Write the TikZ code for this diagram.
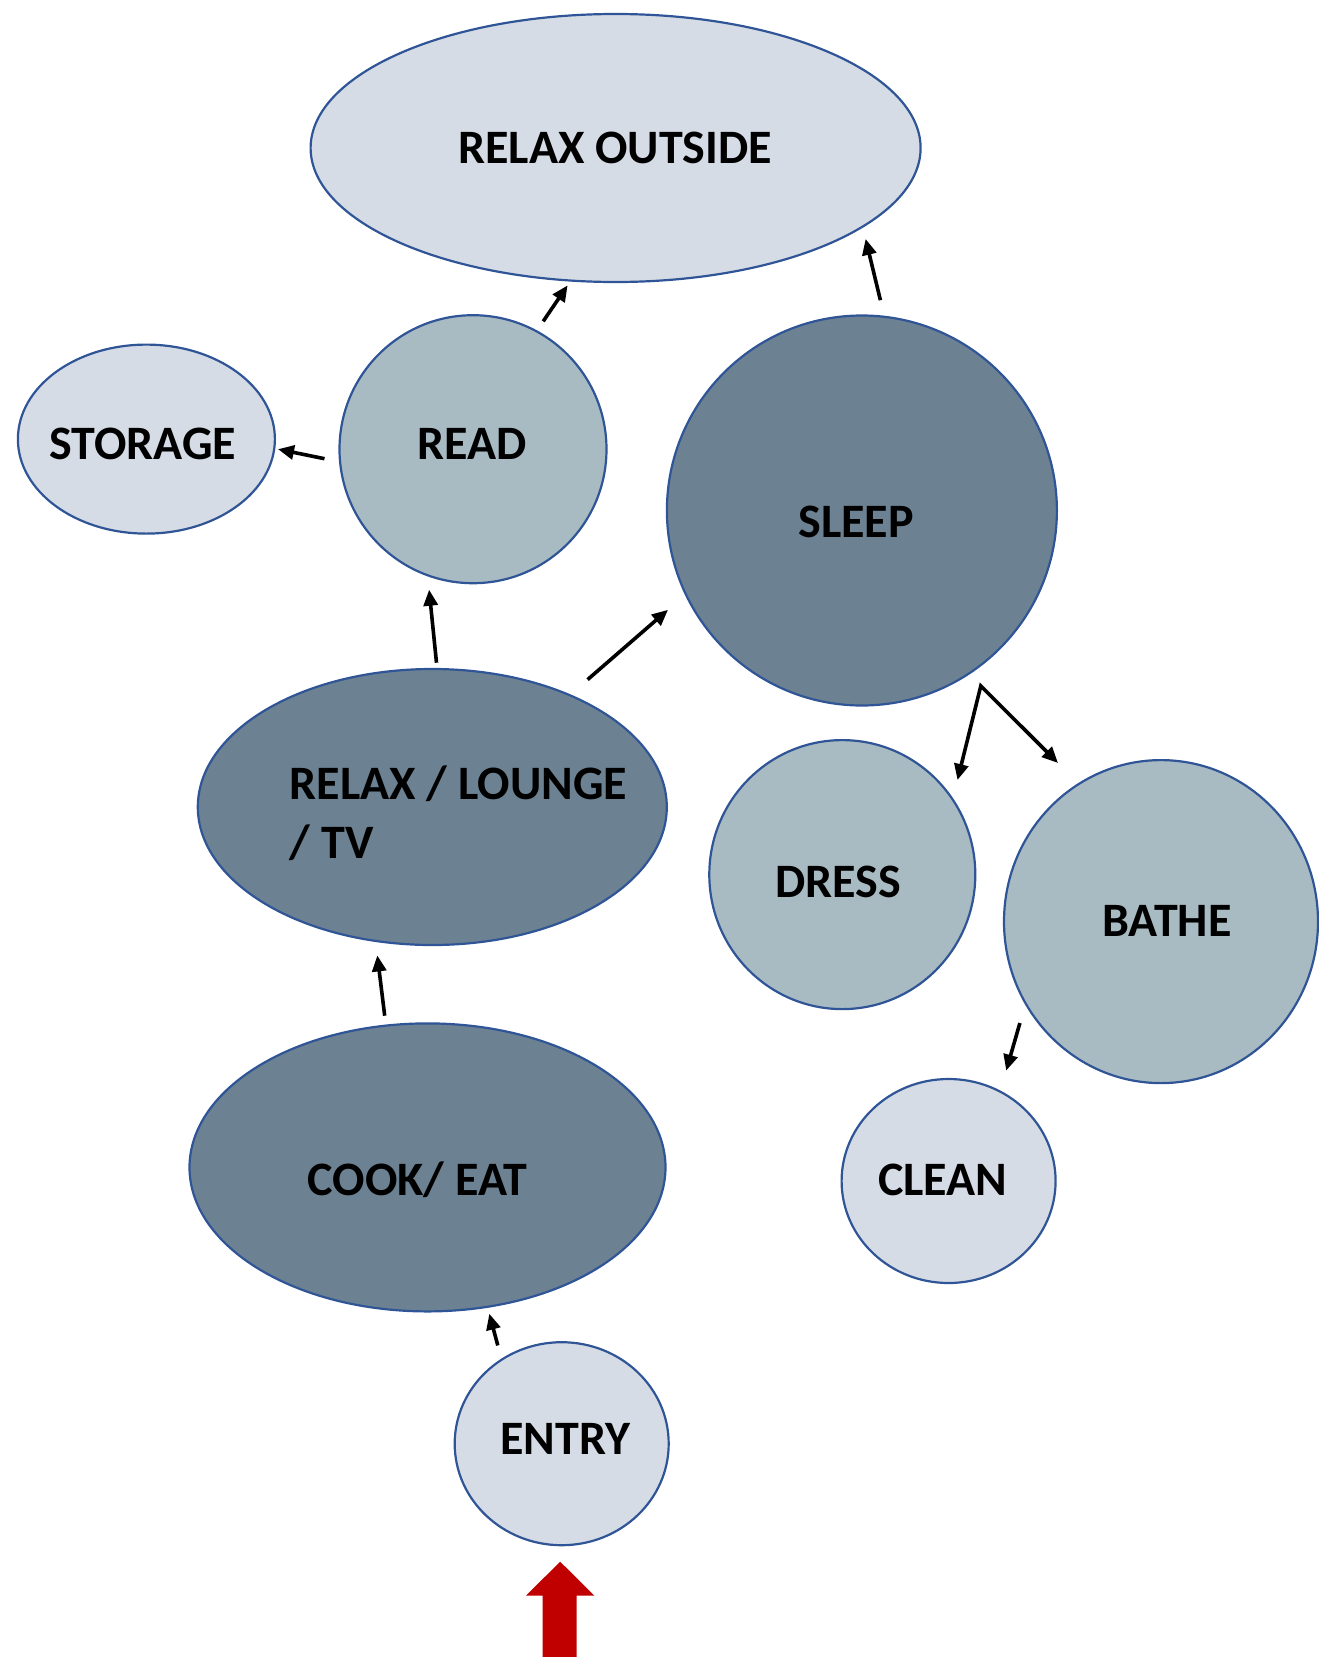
\documentclass[tikz,border=0pt]{standalone}
\usepackage{fontspec}
\setmainfont{Carlito}
\usetikzlibrary{shapes.geometric,arrows.meta}
\definecolor{lightfill}{HTML}{D6DCE5}
\definecolor{midfill}{HTML}{A9BBC2}
\definecolor{darkfill}{HTML}{6C8191}
\definecolor{rim}{HTML}{2F5597}
\definecolor{entryred}{HTML}{C00000}
\begin{document}
\begin{tikzpicture}[x=1pt,y=-1pt,
  zone/.style={ellipse, draw=rim, line width=2.2pt, inner sep=0pt},
  lbl/.style={font=\fontsize{48}{57}\selectfont\bfseries, text height=30.3pt, text depth=0pt, inner sep=0pt},
  lbltwo/.style={font=\fontsize{48}{59}\selectfont\bfseries, inner sep=0pt, align=left},
  flow/.style={line width=3.6pt, -{Triangle[length=16pt,width=14pt]}},
  fork/.style={line width=3.6pt, {Triangle[length=16pt,width=14pt]}-{Triangle[length=16pt,width=14pt]}, line join=miter},
]
\useasboundingbox (0,0) rectangle (1319,1657);

% zones
\node[zone, fill=lightfill, minimum width=610pt, minimum height=268pt] (outside) at (615.6,148) {};
\node[zone, fill=lightfill, minimum width=257pt, minimum height=189pt] (storage) at (146.4,439.1) {};
\node[zone, fill=midfill, minimum width=267pt, minimum height=268pt] (read) at (473,449.2) {};
\node[zone, fill=darkfill, minimum width=390pt, minimum height=390pt] (sleep) at (861.9,510.5) {};
\node[zone, fill=darkfill, minimum width=469pt, minimum height=276pt] (lounge) at (432.3,807) {};
\node[zone, fill=midfill, minimum width=266pt, minimum height=269pt] (dress) at (842.3,874.6) {};
\node[zone, fill=midfill, minimum width=314pt, minimum height=323pt] (bathe) at (1161,921.6) {};
\node[zone, fill=darkfill, minimum width=476pt, minimum height=288pt] (cook) at (427.5,1167.4) {};
\node[zone, fill=lightfill, minimum width=214pt, minimum height=204pt] (clean) at (948.6,1181) {};
\node[zone, fill=lightfill, minimum width=214pt, minimum height=203pt] (entry) at (561.7,1443.7) {};

% labels
\node[lbl] (toutside) at (615.1,148) {RELAX OUTSIDE};
\node[lbl] (tstorage) at (142.7,443.9) {STORAGE};
\node[lbl] (tread) at (472.4,443.9) {READ};
\node[lbl] (tsleep) at (856.1,522.1) {SLEEP};
\node[lbltwo, anchor=west] (tlounge) at (289.6,812.8) {RELAX / LOUNGE\\/ TV};
\node[lbl] (tdress) at (838.1,882.5) {DRESS};
\node[lbl] (tbathe) at (1166.8,921.6) {BATHE};
\node[lbl] (tcook) at (417.5,1180.6) {COOK/ EAT};
\node[lbl] (tclean) at (942.8,1180.6) {CLEAN};
\node[lbl] (tentry) at (565.4,1439.5) {ENTRY};

% connector ends
\coordinate (readTop) at (543.2,321.3);
\coordinate (outsideLow) at (567.6,285.4);
\coordinate (sleepTop) at (880.4,300.2);
\coordinate (outsideRight) at (865.6,238.9);
\coordinate (readLeft) at (324.5,458.7);
\coordinate (storageRight) at (278,449.2);
\coordinate (loungeTop) at (436.5,662.7);
\coordinate (readLow) at (429.1,589.7);
\coordinate (loungeRight) at (587.6,679.6);
\coordinate (sleepLeft) at (668,609.8);
\coordinate (sleepFork) at (980.8,685.9);
\coordinate (dressTop) at (957.5,780);
\coordinate (batheTop) at (1058,763);
\coordinate (batheLow) at (1019.9,1023);
\coordinate (cleanTop) at (1006.2,1070.6);
\coordinate (cookTop) at (384.7,1015.7);
\coordinate (loungeLow) at (377.3,955.4);
\coordinate (entryTop) at (497.8,1345.4);
\coordinate (cookLow) at (489.3,1313.7);

% connectors
\draw[flow] (readTop) -- (outsideLow);
\draw[flow] (sleepTop) -- (outsideRight);
\draw[flow] (readLeft) -- (storageRight);
\draw[flow] (loungeTop) -- (readLow);
\draw[flow] (loungeRight) -- (sleepLeft);
\draw[fork] (dressTop) -- (sleepFork) -- (batheTop);
\draw[flow] (batheLow) -- (cleanTop);
\draw[flow] (cookTop) -- (loungeLow);
\draw[flow] (entryTop) -- (cookLow);

% entrance arrow
\fill[entryred] (525.8,1595.7) -- (560.2,1561.7) -- (594.3,1595.7) -- (576.7,1595.7)
  -- (576.7,1657) -- (542.7,1657) -- (542.7,1595.7) -- cycle;
\end{tikzpicture}
\end{document}
